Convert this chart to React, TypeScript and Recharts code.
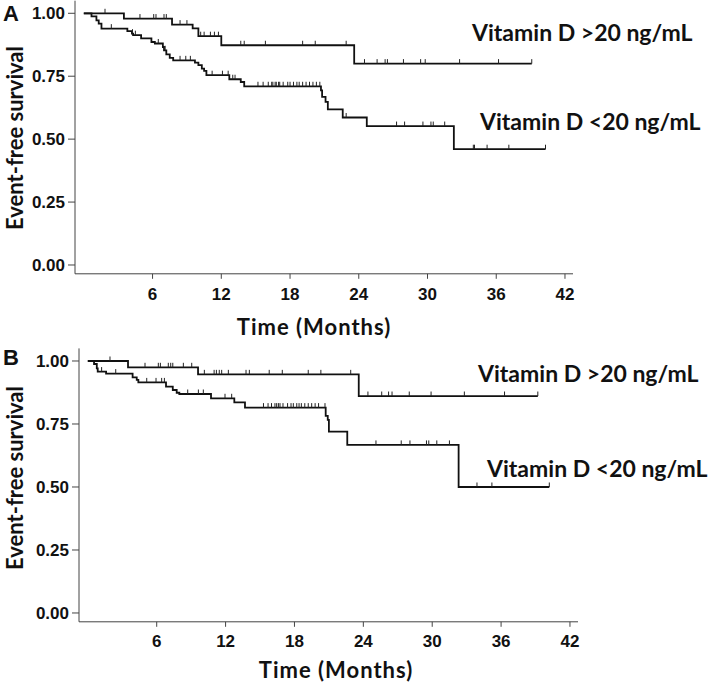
import { ComposedChart, Line, Scatter, XAxis, YAxis } from 'recharts';

const monthTicks = [6, 12, 18, 24, 30, 36, 42];
const survivalTicks = [0, 0.25, 0.5, 0.75, 1];

// Panel A, vitamin D >20 ng/mL
const aHighTimes = [0, 3.5, 7.7, 9.5, 10.0, 12.0, 23.6, 39.1];
const aHighSurv = [1, 0.979, 0.955, 0.94, 0.909, 0.873, 0.8, 0.8];
const aHighCensored = [1.85, 4.9, 6.1, 6.3, 7.0, 7.2, 8.4, 9.0, 10.2, 10.5, 11.05, 11.4, 11.75, 13.7, 14.0, 15.85, 19.1, 20.2, 22.9, 24.5, 25.6, 26.3, 26.5, 27.9, 29.4, 29.8, 32.8, 36.2, 39.1];

// Panel A, vitamin D <20 ng/mL
const aLowTimes = [0, 0.67, 1.1, 1.3, 1.54, 3.8, 4.2, 4.3, 5.0, 5.9, 6.2, 6.9, 7.0, 7.2, 7.5, 7.8, 9.7, 10.0, 10.3, 10.5, 10.7, 12.7, 13.7, 14.0, 20.7, 20.8, 21.1, 21.3, 22.6, 24.7, 32.3, 40.3];
const aLowSurv = [1, 0.988, 0.972, 0.959, 0.939, 0.929, 0.919, 0.913, 0.9, 0.886, 0.88, 0.866, 0.853, 0.837, 0.823, 0.813, 0.804, 0.794, 0.78, 0.771, 0.754, 0.738, 0.727, 0.71, 0.694, 0.668, 0.648, 0.618, 0.586, 0.552, 0.46, 0.46];
const aLowCensored = [2.4, 4.25, 4.5, 6.5, 7.1, 8.4, 8.9, 9.3, 11.2, 12.1, 12.6, 13.0, 13.2, 15.2, 15.65, 16.1, 16.4, 16.5, 16.7, 16.8, 17.0, 17.1, 17.4, 17.8, 18.0, 18.3, 18.6, 18.8, 19.1, 19.4, 19.7, 20.0, 20.3, 20.6, 22.9, 27.3, 28.0, 29.6, 30.3, 30.5, 31.5, 34.0, 34.1, 35.2, 37.1, 40.3];

// Panel B, vitamin D >20 ng/mL
const bHighTimes = [0, 3.5, 9.6, 23.6, 39.2];
const bHighSurv = [1, 0.975, 0.947, 0.861, 0.861];
const bHighCensored = [1.93, 4.98, 6.14, 6.32, 7.01, 7.22, 7.4, 8.32, 9.05, 10.15, 11.0, 11.2, 11.45, 11.66, 12.24, 13.78, 14.07, 15.8, 16.94, 19.2, 20.3, 22.9, 24.4, 25.6, 26.2, 26.5, 28.0, 29.9, 32.8, 36.3, 39.2];

// Panel B, vitamin D <20 ng/mL
const bLowTimes = [0, 0.54, 0.78, 0.86, 1.59, 3.9, 4.26, 4.4, 6.81, 7.4, 7.74, 7.97, 10.73, 12.76, 13.69, 20.72, 20.9, 21.0, 22.6, 32.3, 40.2];
const bLowSurv = [1, 0.988, 0.971, 0.958, 0.95, 0.935, 0.925, 0.915, 0.898, 0.885, 0.874, 0.869, 0.852, 0.836, 0.815, 0.782, 0.766, 0.72, 0.667, 0.5, 0.5];
const bLowCensored = [1.2, 2.43, 5.13, 5.94, 6.43, 6.67, 8.7, 9.63, 10.06, 11.95, 12.53, 15.3, 15.7, 16.0, 16.3, 16.45, 16.6, 16.74, 17.0, 17.4, 17.7, 17.9, 18.2, 18.4, 18.6, 18.9, 19.2, 19.5, 19.8, 20.1, 20.66, 25.1, 27.3, 28.06, 29.5, 29.7, 30.4, 31.5, 33.9, 35.2, 40.2];

const steps = (times: number[], surv: number[]) => times.map((t, i) => ({ t, s: surv[i] }));

// KM value at a censoring time = last step at or before it
const marks = (times: number[], surv: number[], censored: number[]) =>
  censored.map((t) => {
    let s = surv[0];
    times.forEach((st, i) => {
      if (st <= t) s = surv[i];
    });
    return { t, s };
  });

const CensorMark = (props: any) => {
  const { cx, cy } = props;
  return <line x1={cx} x2={cx} y1={cy - 4.5} y2={cy} stroke="#222" strokeWidth={1} />;
};

const lato = 'Lato, "Open Sans", sans-serif';
const tickStyle = { fill: '#111', fontSize: 17, fontWeight: 700, fontFamily: '"Liberation Sans", Arial, sans-serif' };

type PanelProps = {
  top: number;
  height: number;
  axisLeft: number;
  marginRight: number;
  marginTop: number;
  marginBottom: number;
  letter: string;
  letterY: number;
  yTitleY: number;
  xTitleX: number;
  xTitleY: number;
  highLabel: [number, number];
  lowLabel: [number, number];
  high: { t: number; s: number }[];
  low: { t: number; s: number }[];
  highMarks: { t: number; s: number }[];
  lowMarks: { t: number; s: number }[];
  tickMargin: number;
};

function Panel(p: PanelProps) {
  return (
    <div style={{ position: 'absolute', left: 0, top: p.top, width: 709, height: p.height }}>
      <ComposedChart
        width={709}
        height={p.height}
        margin={{ top: p.marginTop, right: p.marginRight, bottom: p.marginBottom, left: 0 }}
      >
        <XAxis
          type="number"
          dataKey="t"
          domain={[-0.77, 42.7]}
          allowDataOverflow
          ticks={monthTicks}
          tickSize={5}
          tickMargin={p.tickMargin}
          height={30}
          stroke="#444"
          tick={tickStyle}
        />
        <YAxis
          type="number"
          dataKey="s"
          domain={[-0.035, 1.05]}
          allowDataOverflow
          ticks={survivalTicks}
          tickFormatter={(v: number) => v.toFixed(2)}
          tickSize={7}
          tickMargin={3}
          width={p.axisLeft}
          stroke="#444"
          tick={tickStyle}
        />
        <Line data={p.high} dataKey="s" type="stepAfter" stroke="#111" strokeWidth={1.8} dot={false} isAnimationActive={false} />
        <Line data={p.low} dataKey="s" type="stepAfter" stroke="#111" strokeWidth={1.8} dot={false} isAnimationActive={false} />
        <Scatter data={p.highMarks} dataKey="s" shape={CensorMark} isAnimationActive={false} />
        <Scatter data={p.lowMarks} dataKey="s" shape={CensorMark} isAnimationActive={false} />
        <text x={3} y={p.letterY} fontSize={22} fontWeight={700} fontFamily='"Liberation Sans", Arial, sans-serif' fill="#111">
          {p.letter}
        </text>
        <text
          x={14}
          y={p.yTitleY}
          transform={`rotate(-90 14 ${p.yTitleY})`}
          textAnchor="middle"
          dominantBaseline="central"
          fontSize={22}
          fontWeight={700}
          fontFamily={lato}
          fill="#111"
        >
          Event-free survival
        </text>
        <text
          x={p.xTitleX}
          y={p.xTitleY}
          textAnchor="middle"
          fontSize={22}
          fontWeight={700}
          letterSpacing={1}
          fontFamily={lato}
          fill="#111"
        >
          Time (Months)
        </text>
        <text x={p.highLabel[0]} y={p.highLabel[1]} fontSize={23} fontWeight={700} fontFamily={lato} fill="#111">
          {'Vitamin D >20 ng/mL'}
        </text>
        <text x={p.lowLabel[0]} y={p.lowLabel[1]} fontSize={23} fontWeight={700} fontFamily={lato} fill="#111">
          {'Vitamin D <20 ng/mL'}
        </text>
      </ComposedChart>
    </div>
  );
}

export default function App() {
  return (
    <div style={{ position: 'absolute', left: 0, top: 0, width: 709, height: 683, background: '#fff' }}>
      <Panel
        top={0}
        height={345}
        axisLeft={75}
        marginRight={136}
        marginTop={0.7}
        marginBottom={41.2}
        letter="A"
        letterY={21}
        yTitleY={138}
        xTitleX={314}
        xTitleY={335}
        highLabel={[472, 41]}
        lowLabel={[480, 130]}
        high={steps(aHighTimes, aHighSurv)}
        low={steps(aLowTimes, aLowSurv)}
        highMarks={marks(aHighTimes, aHighSurv, aHighCensored)}
        lowMarks={marks(aLowTimes, aLowSurv, aLowCensored)}
        tickMargin={9}
      />
      <Panel
        top={345}
        height={338}
        axisLeft={79}
        marginRight={131}
        marginTop={3.4}
        marginBottom={31.2}
        letter="B"
        letterY={20}
        yTitleY={133}
        xTitleX={336}
        xTitleY={333}
        highLabel={[478, 37]}
        lowLabel={[487, 132]}
        high={steps(bHighTimes, bHighSurv)}
        low={steps(bLowTimes, bLowSurv)}
        highMarks={marks(bHighTimes, bHighSurv, bHighCensored)}
        lowMarks={marks(bLowTimes, bLowSurv, bLowCensored)}
        tickMargin={8}
      />
    </div>
  );
}
